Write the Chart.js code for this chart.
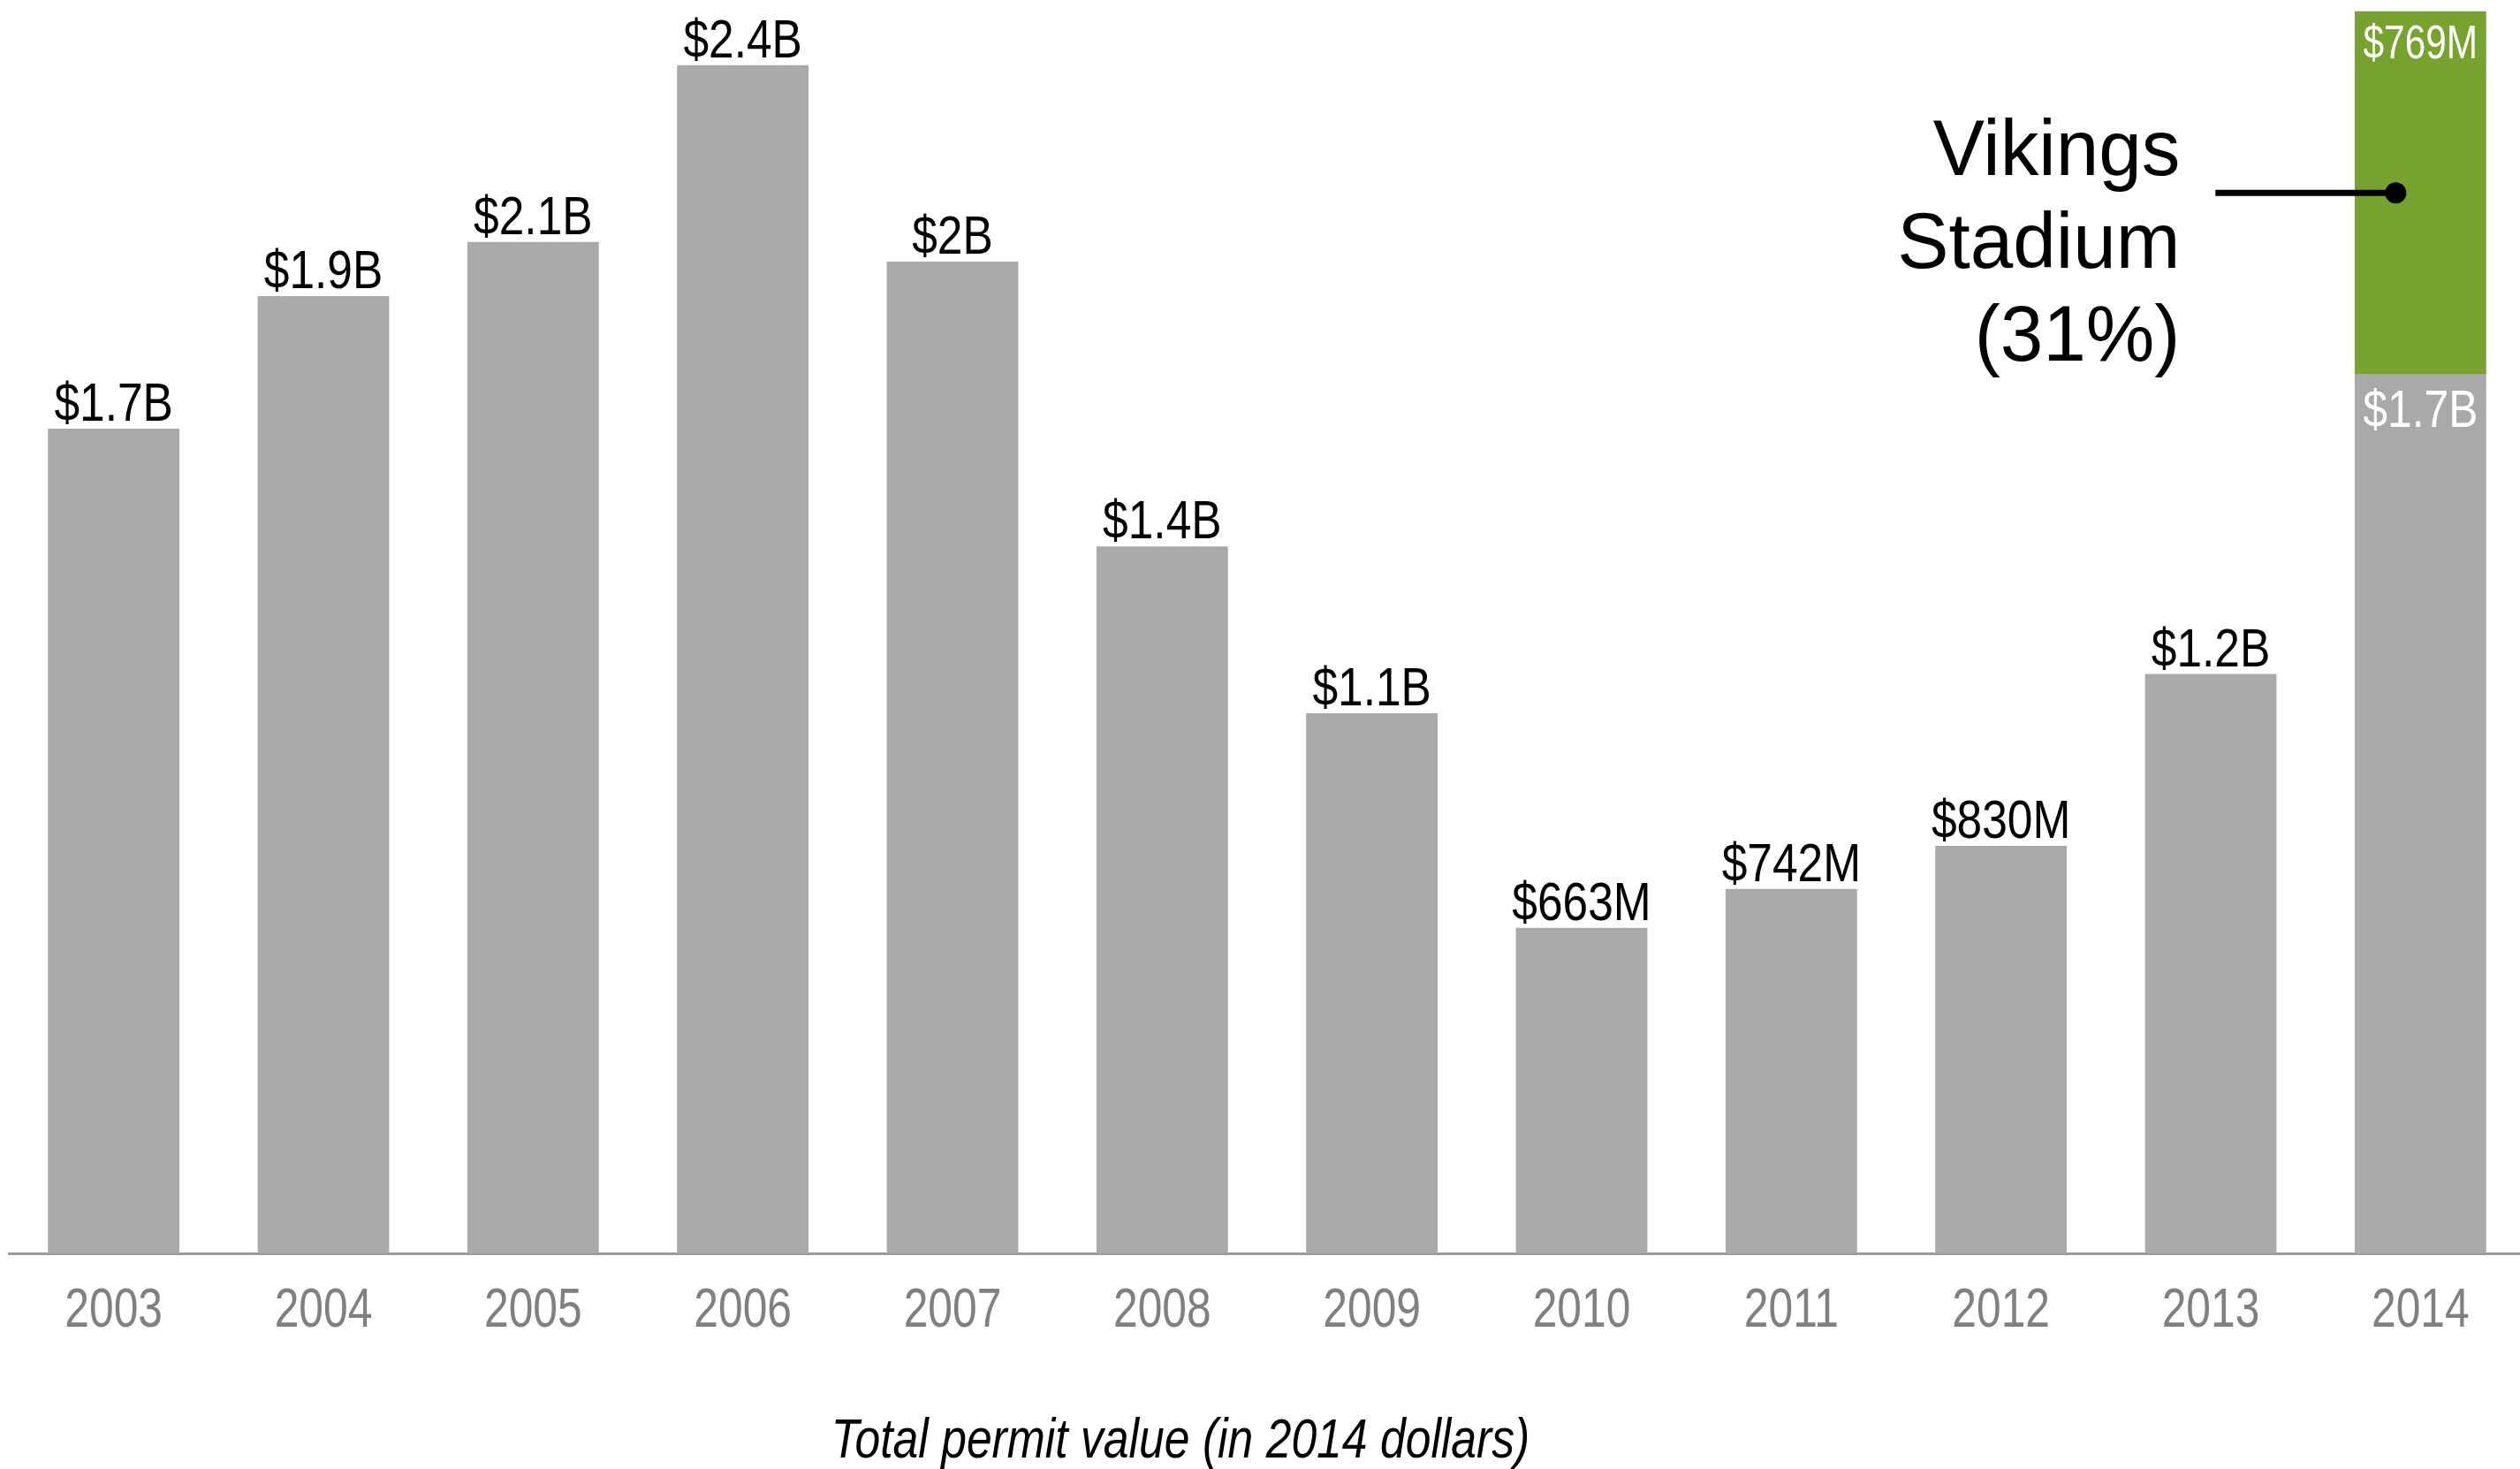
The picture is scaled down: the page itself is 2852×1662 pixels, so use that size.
<!DOCTYPE html>
<html>
<head>
<meta charset="utf-8">
<script src="https://cdn.jsdelivr.net/npm/chart.js@4.4.1/dist/chart.umd.min.js"></script>
<style>
  html, body { margin: 0; padding: 0; background: #fff; overflow: hidden; }
  #wrap { width: 2852px; height: 1662px; overflow: hidden; }
</style>
</head>
<body>
<div id="wrap"><canvas id="permits" width="2864" height="1662"></canvas></div>
<script>
// permit value per year, in billions of 2014 dollars
const years = ['2003', '2004', '2005', '2006', '2007', '2008', '2009', '2010', '2011', '2012', '2013', '2014'];
const baseValues = [1.68, 1.95, 2.06, 2.42, 2.02, 1.44, 1.10, 0.663, 0.742, 0.830, 1.18, 1.79];
const stadiumValues = [0, 0, 0, 0, 0, 0, 0, 0, 0, 0, 0, 0.74];
const baseLabels = ['$1.7B', '$1.9B', '$2.1B', '$2.4B', '$2B', '$1.4B', '$1.1B', '$663M', '$742M', '$830M', '$1.2B', '$1.7B'];
const stadiumLabels = ['', '', '', '', '', '', '', '', '', '', '', '$769M'];
const noteLines = ['Vikings', 'Stadium', '(31%)'];
const axisTitle = 'Total permit value (in 2014 dollars)';

const SANS = '"Liberation Sans", Arial, sans-serif';
const SQUEEZE = 0.83; // the original uses a condensed face

// draw text squeezed horizontally around its anchor
function narrowText(ctx, text, x, y, sx) {
  ctx.save();
  ctx.translate(x, y);
  ctx.scale(sx, 1);
  ctx.fillText(text, 0, 0);
  ctx.restore();
}

const labelsPlugin = {
  id: 'labels',
  afterDatasetsDraw(chart) {
    const ctx = chart.ctx;
    const xScale = chart.scales.x;
    const baseBars = chart.getDatasetMeta(0).data;
    const topBars = chart.getDatasetMeta(1).data;
    ctx.save();
    ctx.textAlign = 'center';
    ctx.textBaseline = 'alphabetic';
    baseBars.forEach((bar, i) => {
      if (stadiumValues[i] > 0) {
        // labels sit inside the stacked bar
        const top = topBars[i];
        ctx.fillStyle = '#ffffff';
        ctx.font = '53px ' + SANS;
        narrowText(ctx, stadiumLabels[i], top.x, top.y + 53, 0.8);
        ctx.font = '60px ' + SANS;
        narrowText(ctx, baseLabels[i], bar.x, bar.y + 59, SQUEEZE);
      } else {
        ctx.fillStyle = '#000000';
        ctx.font = '62px ' + SANS;
        narrowText(ctx, baseLabels[i], bar.x, bar.y - 9, SQUEEZE);
      }
    });

    // year labels along the axis
    ctx.fillStyle = '#808080';
    ctx.font = '63px ' + SANS;
    years.forEach((y, i) => {
      narrowText(ctx, y, xScale.getPixelForTick(i), chart.chartArea.bottom + 83, 0.79);
    });

    // callout for the stadium segment
    const last = stadiumValues.length - 1;
    const seg = topBars[last];
    const dotY = (seg.y + seg.base) / 2;
    const dotX = seg.x - 28;
    const lineStart = dotX - 204;
    ctx.strokeStyle = '#000';
    ctx.lineWidth = 7;
    ctx.beginPath();
    ctx.moveTo(lineStart, dotY);
    ctx.lineTo(dotX, dotY);
    ctx.stroke();
    ctx.fillStyle = '#000';
    ctx.beginPath();
    ctx.arc(dotX, dotY, 12, 0, Math.PI * 2);
    ctx.fill();

    ctx.font = '89px ' + SANS;
    ctx.textAlign = 'right';
    noteLines.forEach((t, k) => {
      narrowText(ctx, t, lineStart - 40, dotY - 20 + k * 105, 0.98);
    });

    // axis title under the year labels
    ctx.font = 'italic 63px ' + SANS;
    ctx.textAlign = 'center';
    narrowText(ctx, axisTitle, 1336, 1649, 0.82);
    ctx.restore();
  }
};

new Chart(document.getElementById('permits'), {
  type: 'bar',
  data: {
    labels: years,
    datasets: [
      { label: 'Other permits', data: baseValues, backgroundColor: '#a9a9a9' },
      { label: 'Vikings Stadium', data: stadiumValues, backgroundColor: '#78a22f' }
    ]
  },
  options: {
    responsive: false,
    animation: false,
    devicePixelRatio: 1,
    layout: { padding: { left: 10, right: 6, top: 0, bottom: 236 } },
    datasets: { bar: { categoryPercentage: 1, barPercentage: 0.627 } },
    plugins: {
      legend: { display: false },
      tooltip: { enabled: false },
      title: { display: false }
    },
    scales: {
      x: {
        stacked: true,
        grid: { display: false },
        border: { display: true, color: '#9a9a9a', width: 3 },
        ticks: { display: false }
      },
      y: {
        stacked: true,
        display: false,
        min: 0,
        max: 2.553
      }
    }
  },
  plugins: [labelsPlugin]
});
</script>
</body>
</html>
